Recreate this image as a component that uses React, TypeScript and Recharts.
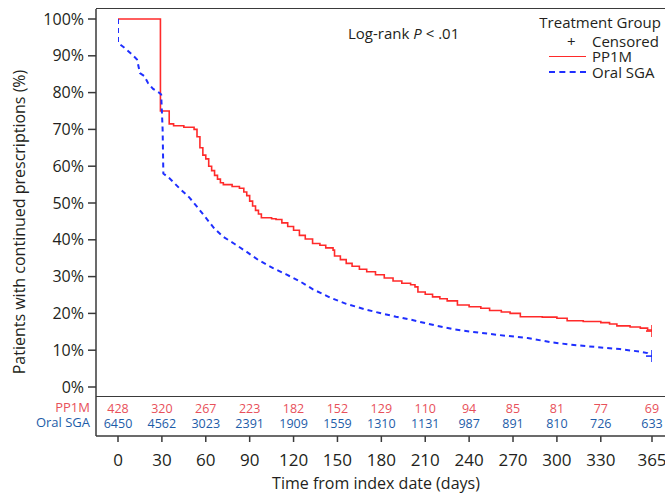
import React from "react";
import { LineChart, Line, XAxis, YAxis } from "recharts";

const FONT = "'Open Sans', 'Noto Sans', sans-serif";
const TEXT = "#231f20";
const AXIS = "#3a3a3a";
const RED = "#ff2a2a";
const BLUE = "#1f2fff";
const RED_TEXT = "#e8505a";
const BLUE_TEXT = "#1d5ca8";

// PP1M Kaplan-Meier curve (days, % still on prescription)
const pp1mDays = [0, 29, 35, 38, 45, 52, 54, 56, 58, 60, 62, 64, 66, 68, 70, 72, 78, 83, 86, 88, 90, 92, 94, 96, 98, 105, 108, 112, 116, 120, 124, 128, 133, 138, 142, 147, 148, 152, 156, 160, 165, 170, 176, 182, 188, 194, 200, 203, 205, 210, 215, 220, 225, 232, 240, 248, 254, 262, 268, 275, 290, 300, 307, 318, 330, 336, 341, 350, 357, 362, 365];
const pp1mPct = [100, 75, 71.5, 71, 70.6, 70, 68, 65, 63, 62, 60, 58.8, 57.5, 56.5, 55.5, 55, 54.5, 54, 53, 52, 50.5, 49.2, 48, 47, 46, 45.7, 45.5, 44.6, 43.6, 42.6, 41.2, 40.2, 39, 38.5, 37.8, 37.2, 35.6, 34.6, 33.6, 32.8, 32, 31.3, 30.5, 29.6, 28.8, 28.2, 27.8, 27.2, 25.8, 25.2, 24.5, 24, 23.4, 22.3, 21.8, 21.4, 20.8, 20.4, 20, 19.1, 19, 18.7, 18, 17.8, 17.5, 17.1, 16.6, 16.3, 16, 15.5, 15.2];

// Oral SGA curve
const oralDays = [0, 0, 5, 10, 13, 15, 18, 20.5, 24, 28, 29.5, 30.5, 31, 35, 42, 49, 55, 60, 66, 72, 80, 88, 96, 106, 115, 124, 133, 145, 156, 168, 179, 190, 200, 215, 228, 240, 261, 280, 297, 310, 320, 343, 357, 362, 365];
const oralPct = [100, 93.5, 92, 90.2, 89, 85.3, 84.5, 82.6, 81, 80, 79.5, 70, 58, 56.8, 54, 51.4, 48.5, 46, 43, 40.8, 38.8, 36.7, 34.5, 32.3, 30.6, 28.8, 26.6, 24.3, 22.6, 21.2, 20.1, 19.1, 18.3, 16.9, 15.8, 15.1, 14.1, 13.3, 12.1, 11.5, 11.1, 10.3, 9.6, 9.2, 8.4];

// number at risk table
const dayTicks = [0, 30, 60, 90, 120, 150, 180, 210, 240, 270, 300, 330, 365];
const riskPP1M = [428, 320, 267, 223, 182, 152, 129, 110, 94, 85, 81, 77, 69];
const riskOral = [6450, 4562, 3023, 2391, 1909, 1559, 1310, 1131, 987, 891, 810, 726, 633];
const pctTicks = [0, 10, 20, 30, 40, 50, 60, 70, 80, 90, 100];

const pp1m = pp1mDays.map((t, i) => ({ t, s: pp1mPct[i] }));
const oral = oralDays.map((t, i) => ({ t, s: oralPct[i] }));

function DayTick(props: any) {
  const { x, y, payload } = props;
  const i = dayTicks.indexOf(payload.value);
  return (
    <g fontFamily={FONT}>
      <text x={x} y={y - 34} textAnchor="middle" dominantBaseline="central" fontSize={12.5} fill={RED_TEXT}>{riskPP1M[i]}</text>
      <text x={x} y={y - 19} textAnchor="middle" dominantBaseline="central" fontSize={12.5} fill={BLUE_TEXT}>{riskOral[i]}</text>
      <text x={x} y={y + 17} textAnchor="middle" dominantBaseline="central" fontSize={17} fill={TEXT}>{payload.value}</text>
    </g>
  );
}

function censorDot(last: number, color: string) {
  return (p: any) => {
    if (p.index !== last) return <g key={p.index} />;
    return (
      <g key={p.index} stroke={color} strokeWidth={1.6}>
        <line x1={p.cx - 6} x2={p.cx + 6} y1={p.cy} y2={p.cy} />
        <line x1={p.cx} x2={p.cx} y1={p.cy - 6} y2={p.cy + 6} />
      </g>
    );
  };
}

function Txt({ x, y, right, size = 15, color = TEXT, children }: any) {
  const style: React.CSSProperties = {
    position: "absolute",
    top: y,
    transform: "translateY(-50%)",
    fontSize: size,
    lineHeight: 0.85,
    color,
    whiteSpace: "nowrap",
  };
  if (right !== undefined) style.right = 665 - right;
  else style.left = x;
  return <div style={style}>{children}</div>;
}

export default function App() {
  return (
    <div style={{ position: "relative", width: 665, height: 494, fontFamily: FONT, background: "#fff" }}>
      <style>{"body{margin:0}"}</style>
      <LineChart width={665} height={494} margin={{ top: 9, right: 0, bottom: 0, left: 0 }}>
        <XAxis
          type="number"
          dataKey="t"
          domain={[0, 365]}
          ticks={dayTicks}
          interval={0}
          padding={{ left: 22, right: 13 }}
          height={58}
          tickSize={6}
          tickMargin={0}
          tick={(p: any) => <DayTick {...p} />}
          stroke={AXIS}
          strokeWidth={1.5}
          allowDataOverflow
        />
        <YAxis
          type="number"
          dataKey="s"
          domain={[0, 100]}
          ticks={pctTicks}
          interval={0}
          width={96}
          padding={{ top: 10, bottom: 49 }}
          tickSize={8}
          tickMargin={4}
          tickFormatter={(v: number) => `${v}%`}
          tick={{ fill: TEXT, fontSize: 16, fontFamily: FONT }}
          stroke={AXIS}
          strokeWidth={1.5}
        />
        <Line
          data={pp1m}
          dataKey="s"
          type="stepAfter"
          stroke={RED}
          strokeWidth={1.6}
          dot={censorDot(pp1m.length - 1, RED)}
          activeDot={false}
          isAnimationActive={false}
        />
        <Line
          data={oral}
          dataKey="s"
          type="linear"
          stroke={BLUE}
          strokeWidth={2}
          strokeDasharray="5 4"
          dot={censorDot(oral.length - 1, BLUE)}
          activeDot={false}
          isAnimationActive={false}
        />
      </LineChart>

      {/* frame: top border and divider above the at-risk table */}
      <div style={{ position: "absolute", left: 96, top: 8, width: 569, borderTop: `1.5px solid ${AXIS}` }} />
      <div style={{ position: "absolute", left: 96, top: 396, width: 569, borderTop: `1.5px solid ${AXIS}` }} />

      <div
        style={{
          position: "absolute",
          left: 19,
          top: 222,
          transform: "translate(-50%, -50%) rotate(-90deg)",
          fontSize: 16,
          color: TEXT,
          whiteSpace: "nowrap",
        }}
      >
        Patients with continued prescriptions (%)
      </div>
      <div
        style={{
          position: "absolute",
          left: 376,
          top: 483,
          transform: "translate(-50%, -50%)",
          fontSize: 16,
          color: TEXT,
          whiteSpace: "nowrap",
        }}
      >
        Time from index date (days)
      </div>

      <Txt right={90} y={408} size={13} color={RED_TEXT}>PP1M</Txt>
      <Txt right={90} y={423} size={13} color={BLUE_TEXT}>Oral SGA</Txt>

      <Txt x={348} y={33}>
        Log-rank <i>P</i> &lt; .01
      </Txt>

      <Txt right={661} y={22}>Treatment Group</Txt>
      <Txt x={567} y={41}>+</Txt>
      <Txt x={592} y={41}>Censored</Txt>
      <div style={{ position: "absolute", left: 549, top: 56, width: 37, borderTop: `1.5px solid ${RED}` }} />
      <Txt x={592} y={56}>PP1M</Txt>
      <div style={{ position: "absolute", left: 549, top: 71, width: 37, borderTop: `2px dashed ${BLUE}` }} />
      <Txt x={592} y={72}>Oral SGA</Txt>
    </div>
  );
}
